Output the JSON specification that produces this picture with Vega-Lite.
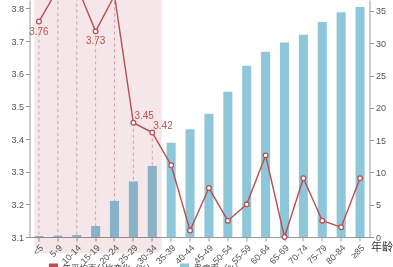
{
  "$schema": "https://vega.github.io/schema/vega-lite/v6.json",
  "autosize": "none",
  "width": 340,
  "height": 237,
  "padding": {"left": 29.5, "top": 0, "right": 23.5, "bottom": 30},
  "background": "white",
  "config": {
    "font": "Liberation Sans, Noto Sans CJK SC",
    "view": {"stroke": null},
    "axis": {"domainColor": "#999", "tickColor": "#999", "labelColor": "#555", "labelFontSize": 9, "grid": false, "tickSize": 4}
  },
  "datasets": {
    "main": [
      {"age": "<5", "rate": 0.15, "aapc": 3.76},
      {"age": "5-9", "rate": 0.2, "aapc": 3.86},
      {"age": "10-14", "rate": 0.3, "aapc": 3.87},
      {"age": "15-19", "rate": 1.7, "aapc": 3.73},
      {"age": "20-24", "rate": 5.6, "aapc": 3.84},
      {"age": "25-29", "rate": 8.6, "aapc": 3.45},
      {"age": "30-34", "rate": 11.0, "aapc": 3.42},
      {"age": "35-39", "rate": 14.6, "aapc": 3.32},
      {"age": "40-44", "rate": 16.7, "aapc": 3.12},
      {"age": "45-49", "rate": 19.1, "aapc": 3.25},
      {"age": "50-54", "rate": 22.5, "aapc": 3.15},
      {"age": "55-59", "rate": 26.5, "aapc": 3.2},
      {"age": "60-64", "rate": 28.7, "aapc": 3.35},
      {"age": "65-69", "rate": 30.1, "aapc": 3.1},
      {"age": "70-74", "rate": 31.3, "aapc": 3.28},
      {"age": "75-79", "rate": 33.3, "aapc": 3.15},
      {"age": "80-84", "rate": 34.8, "aapc": 3.13},
      {"age": "≥85", "rate": 35.6, "aapc": 3.28}
    ],
    "region": [{"from": "<5", "to": "30-34"}]
  },
  "data": {"name": "main"},
  "encoding": {
    "x": {
      "field": "age", "type": "nominal",
      "scale": {"domain": ["<5","5-9","10-14","15-19","20-24","25-29","30-34","35-39","40-44","45-49","50-54","55-59","60-64","65-69","70-74","75-79","80-84","≥85"], "paddingInner": 0.52, "paddingOuter": 0.26},
      "axis": {"labelAngle": -45, "title": "年龄", "titleAngle": 0, "titleX": 341, "titleY": 10, "titleAlign": "left", "titleBaseline": "middle", "titleFontSize": 11, "titleFontWeight": "normal", "titleColor": "#333", "labelPadding": 2}
    }
  },
  "layer": [
    {
      "transform": [{"filter": "indexof(['<5','5-9','10-14','15-19','20-24','25-29','30-34'], datum.age) >= 0"}],
      "mark": {"type": "rule", "strokeDash": [3, 3], "color": "#d6b3bb", "strokeWidth": 1},
      "encoding": {
        "y": {"field": "aapc", "type": "quantitative", "scale": {"domain": [3.1, 3.826], "zero": false, "nice": false}, "axis": null},
        "y2": {"datum": 3.1}
      }
    },
    {
      "mark": {"type": "bar"},
      "encoding": {
        "y": {"field": "rate", "type": "quantitative", "scale": {"domain": [0, 36.7], "nice": false}, "axis": {"orient": "right", "values": [0,5,10,15,20,25,30,35], "title": null}},
        "color": {"datum": "患病率（%）", "type": "nominal", "scale": {"domain": ["年平均百分比变化（%）", "患病率（%）"], "range": ["#b94f50", "#8ec6da"]},
          "legend": {"orient": "none", "legendX": 19, "legendY": 263, "direction": "horizontal", "title": null, "symbolType": "square", "symbolSize": 60, "labelFontSize": 8.5, "labelColor": "#333", "columnPadding": 22}}
      }
    },
    {
      "data": {"name": "region"},
      "mark": {"type": "rect", "color": "#f5e6ea", "blend": "multiply", "cornerRadius": 8, "clip": false},
      "encoding": {
        "x": {"field": "from", "type": "nominal", "bandPosition": 0},
        "x2": {"field": "to", "bandPosition": 1.55},
        "y": {"datum": 3.95, "type": "quantitative", "scale": {"domain": [3.1, 3.826], "zero": false, "nice": false}, "axis": null},
        "y2": {"datum": 3.05}
      }
    },
    {
      "mark": {"type": "line", "strokeWidth": 1.4},
      "encoding": {
        "y": {"field": "aapc", "type": "quantitative", "scale": {"domain": [3.1, 3.826], "zero": false, "nice": false},
          "axis": {"orient": "left", "values": [3.1,3.2,3.3,3.4,3.5,3.6,3.7,3.8], "format": ".1f", "title": null}},
        "color": {"datum": "年平均百分比变化（%）", "type": "nominal"}
      }
    },
    {
      "mark": {"type": "point", "filled": true, "fill": "white", "stroke": "#b94f50", "strokeWidth": 1.3, "size": 22, "opacity": 1},
      "encoding": {
        "y": {"field": "aapc", "type": "quantitative", "scale": {"domain": [3.1, 3.826], "zero": false, "nice": false}, "axis": null}
      }
    },
    {
      "transform": [{"filter": "indexof(['<5','15-19'], datum.age) >= 0"}],
      "mark": {"type": "text", "dy": 10, "fontSize": 10, "color": "#c0504d", "baseline": "middle"},
      "encoding": {
        "y": {"field": "aapc", "type": "quantitative", "scale": {"domain": [3.1, 3.826], "zero": false, "nice": false}, "axis": null},
        "text": {"field": "aapc", "type": "quantitative", "format": ".2f"}
      }
    },
    {
      "transform": [{"filter": "indexof(['25-29','30-34'], datum.age) >= 0"}],
      "mark": {"type": "text", "dx": 1, "dy": -7, "align": "left", "fontSize": 10, "color": "#c0504d", "baseline": "middle"},
      "encoding": {
        "y": {"field": "aapc", "type": "quantitative", "scale": {"domain": [3.1, 3.826], "zero": false, "nice": false}, "axis": null},
        "text": {"field": "aapc", "type": "quantitative", "format": ".2f"}
      }
    }
  ],
  "resolve": {"scale": {"y": "independent"}}
}
